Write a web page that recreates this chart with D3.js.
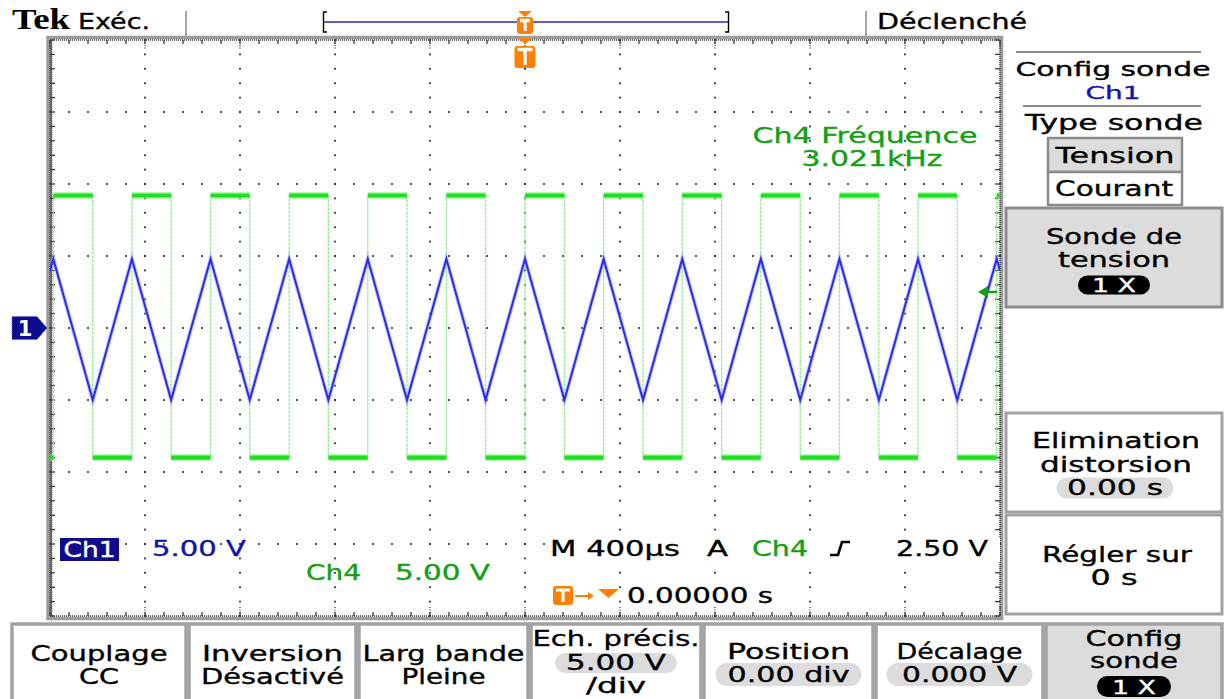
<!DOCTYPE html>
<html>
<head>
<meta charset="utf-8">
<script src="https://cdn.jsdelivr.net/npm/d3@7"></script>
<style>
  html, body { margin: 0; padding: 0; background: #fff; }
  svg { display: block; }
  text { font-family: "DejaVu Sans", Verdana, sans-serif; }
  text.serif { font-family: "Liberation Serif", "Times New Roman", serif; }
</style>
</head>
<body>
<script>
// ---- Acquisition: Ch1 (triangle) and Ch4 (square), 400 µs/div, 5 V/div ----
const timeWindow = [-2000, 2000];          // µs, trigger at 0
const voltWindow = [-20, 20];              // V, 8 divisions of 5 V

// Ch1 triangle vertices (time in µs, level in V)
const ch1Times = [-2000, -1986, -1820, -1655, -1490, -1324, -1159, -993, -828, -662, -497, -331, -166,
                  0, 166, 331, 497, 662, 828, 993, 1159, 1324, 1490, 1655, 1820, 1986, 2000];
const ch1Volts = [4.0, 4.8, -5.0, 4.8, -5.0, 4.8, -5.0, 4.8, -5.0, 4.8, -5.0, 4.8, -5.0,
                  4.8, -5.0, 4.8, -5.0, 4.8, -5.0, 4.8, -5.0, 4.8, -5.0, 4.8, -5.0, 4.8, 4.0];

// Ch4 square: level held from each time until the next one
const ch4Times = [-2000, -1986, -1820, -1655, -1490, -1324, -1159, -993, -828, -662, -497, -331, -166,
                  0, 166, 331, 497, 662, 828, 993, 1159, 1324, 1490, 1655, 1820, 1986, 2000];
const ch4Volts = [-9.0, 9.2, -9.0, 9.2, -9.0, 9.2, -9.0, 9.2, -9.0, 9.2, -9.0, 9.2, -9.0,
                  9.2, -9.0, 9.2, -9.0, 9.2, -9.0, 9.2, -9.0, 9.2, -9.0, 9.2, -9.0, 9.2, 9.2];

const triggerLevel = 2.50;                  // V on Ch4
const ch1Scale = "5.00 V";
const ch4Scale = "5.00 V";
const timebase = "M 400µs";
const triggerLabel = "2.50 V";
const triggerPos = "0.00000 s";
const freqTitle = "Ch4 Fréquence";
const freqValue = "3.021kHz";

// Menus
const sideMenu = {
  title: ["Config sonde", "Ch1"],
  type: ["Type sonde", "Tension", "Courant"]
};
const bottomButtons = [
  ["Couplage", "CC"],
  ["Inversion", "Désactivé"],
  ["Larg bande", "Pleine"],
  ["Ech. précis.", "5.00 V", "/div"],
  ["Position", "0.00 div"],
  ["Décalage", "0.000 V"],
  ["Config", "sonde", "1 X"]
];

// ---------------------------------------------------------------------------
const W = 1224, H = 699;
const P = { left: 50, right: 1000, top: 40, bottom: 616 };
const C = {
  ch1: "#2a2aee", ch1Text: "#1414a8", ch1Box: "#0c0c8c",
  ch4: "#22de22", ch4Edge: "#8eea8e", ch4Text: "#14a014",
  orange: "#ff7f00", frame: "#9c9c9c", grid: "#2a2a2a",
  panel: "#dcdcdc", border: "#a2a2a2"
};

const svg = d3.select("body").append("svg").attr("width", W).attr("height", H);
const x = d3.scaleLinear().domain(timeWindow).range([P.left, P.right]);
const y = d3.scaleLinear().domain(voltWindow).range([P.bottom, P.top]);

function txt(g, px, py, s, o = {}) {
  const fill = o.fill || "#000";
  const t = g.append("text")
    .attr("x", px).attr("y", py)
    .attr("font-size", o.size || 21)
    .attr("fill", fill)
    .attr("stroke", fill).attr("stroke-width", o.weight ? 0 : 0.35)
    .attr("text-anchor", o.anchor || "start")
    .text(s);
  if (o.width) t.attr("textLength", o.width).attr("lengthAdjust", "spacingAndGlyphs");
  if (o.cls) t.attr("class", o.cls);
  if (o.weight) t.attr("font-weight", o.weight);
  return t;
}

// ---- Top status bar ----
const bar = svg.append("g");
txt(bar, 12, 29, "Tek", { cls: "serif", weight: "bold", size: 29, width: 58 });
txt(bar, 78, 29, "Exéc.", { width: 72 });
bar.append("line").attr("x1", 186).attr("x2", 186).attr("y1", 11).attr("y2", 37)
  .attr("stroke", "#a8a8a8").attr("stroke-width", 2);
bar.append("line").attr("x1", 866).attr("x2", 866).attr("y1", 11).attr("y2", 37)
  .attr("stroke", "#a8a8a8").attr("stroke-width", 2);
txt(bar, 877, 29, "Déclenché", { width: 150 });

// record-length bar with brackets
bar.append("line").attr("x1", 323).attr("x2", 729).attr("y1", 22).attr("y2", 22)
  .attr("stroke", "#2a2ab8").attr("stroke-width", 1.6);
bar.append("path").attr("d", "M327,12 L323.5,12 L323.5,32 L327,32")
  .attr("fill", "none").attr("stroke", "#000").attr("stroke-width", 1.4);
bar.append("path").attr("d", "M725,12 L728.5,12 L728.5,32 L725,32")
  .attr("fill", "none").attr("stroke", "#000").attr("stroke-width", 1.4);

function triggerMark(g, cx, ty, boxY, boxW, boxH) {
  g.append("path").attr("d", `M${cx - 7},${ty} L${cx + 7},${ty} L${cx},${ty + 6} Z`).attr("fill", C.orange);
  g.append("rect").attr("x", cx - boxW / 2).attr("y", boxY).attr("width", boxW).attr("height", boxH)
    .attr("rx", 3).attr("fill", C.orange);
  g.append("path")
    .attr("d", `M${cx - boxW / 2 + 3},${boxY + 3.5} L${cx + boxW / 2 - 3},${boxY + 3.5} M${cx},${boxY + 3} L${cx},${boxY + boxH - 3}`)
    .attr("stroke", "#fff").attr("stroke-width", 3.4).attr("fill", "none");
}
triggerMark(bar, x(0), 11, 17, 16, 17);

// ---- Graticule ----
const grat = svg.append("g");
grat.append("rect").attr("x", 48).attr("y", 37.5).attr("width", 953.5).attr("height", 581)
  .attr("fill", "#fff").attr("stroke", C.frame).attr("stroke-width", 3.5);

const majorT = d3.range(timeWindow[0], timeWindow[1] + 1, 400);
const majorV = d3.range(voltWindow[0], voltWindow[1] + 1, 5);
const minorT = d3.range(timeWindow[0], timeWindow[1] + 1, 80);
const minorV = d3.range(voltWindow[0], voltWindow[1] + 1, 1);

// dotted division lines
majorT.slice(1, -1).forEach(t => {
  minorV.forEach(v => grat.append("rect").attr("x", x(t) - 0.9).attr("y", y(v) - 0.9)
    .attr("width", 1.8).attr("height", 1.8).attr("fill", C.grid));
});
majorV.slice(1, -1).forEach(v => {
  minorT.forEach(t => grat.append("rect").attr("x", x(t) - 0.9).attr("y", y(v) - 0.9)
    .attr("width", 1.8).attr("height", 1.8).attr("fill", C.grid));
});

// edge rulers
const edge = grat.append("g").attr("stroke", "#3a3a3a").attr("fill", "none");
[[P.left, P.top, P.right, P.top], [P.left, P.bottom, P.right, P.bottom],
 [P.left, P.top, P.left, P.bottom], [P.right, P.top, P.right, P.bottom]].forEach(([a, b, c, d]) => {
  edge.append("line").attr("x1", a).attr("y1", b).attr("x2", c).attr("y2", d)
    .attr("stroke-width", 1.4).attr("stroke-dasharray", "1,1");
});
edge.append("line").attr("x1", P.left + 1).attr("x2", P.left + 1).attr("y1", P.top).attr("y2", P.bottom)
  .attr("stroke", "#6a6a6a").attr("stroke-width", 2.5);
minorT.forEach(t => {
  edge.append("line").attr("x1", x(t)).attr("x2", x(t)).attr("y1", P.top).attr("y2", P.top + 4).attr("stroke-width", 1.3);
  edge.append("line").attr("x1", x(t)).attr("x2", x(t)).attr("y1", P.bottom - 4).attr("y2", P.bottom).attr("stroke-width", 1.3);
});
minorV.forEach(v => {
  edge.append("line").attr("x1", P.left).attr("x2", P.left + 5).attr("y1", y(v)).attr("y2", y(v)).attr("stroke-width", 1.3);
  edge.append("line").attr("x1", P.right - 5).attr("x2", P.right).attr("y1", y(v)).attr("y2", y(v)).attr("stroke-width", 1.3);
});
majorT.forEach(t => {
  edge.append("line").attr("x1", x(t)).attr("x2", x(t)).attr("y1", P.top).attr("y2", P.top + 9)
    .attr("stroke-width", 1.3).attr("stroke-dasharray", "1,1.5");
  edge.append("line").attr("x1", x(t)).attr("x2", x(t)).attr("y1", P.bottom - 9).attr("y2", P.bottom)
    .attr("stroke-width", 1.3).attr("stroke-dasharray", "1,1.5");
});

// ---- Traces ----
svg.append("clipPath").attr("id", "screen").append("rect")
  .attr("x", P.left).attr("y", P.top).attr("width", P.right - P.left).attr("height", P.bottom - P.top);
const traces = svg.append("g").attr("clip-path", "url(#screen)");

// Ch4 square: faint transitions, heavy plateaus
const ch4 = ch4Times.map((t, i) => ({ t, v: ch4Volts[i] }));
const ch4Edges = traces.append("g");
ch4.slice(1, -1).forEach((d, i) => {
  ch4Edges.append("line").attr("x1", x(d.t)).attr("x2", x(d.t))
    .attr("y1", y(ch4[i].v)).attr("y2", y(d.v))
    .attr("stroke", C.ch4Edge).attr("stroke-width", 1.3).attr("stroke-dasharray", "3,1");
});
const plateaus = ch4.slice(0, -1).map((d, i) => ({ t0: d.t, t1: ch4[i + 1].t, v: d.v }));
traces.append("g").selectAll("line").data(plateaus).join("line")
  .attr("x1", d => x(d.t0)).attr("x2", d => x(d.t1)).attr("y1", d => y(d.v)).attr("y2", d => y(d.v))
  .attr("stroke", "#8ff28f").attr("stroke-width", 7).attr("opacity", 0.6);
traces.append("g").selectAll("line").data(plateaus).join("line")
  .attr("x1", d => x(d.t0)).attr("x2", d => x(d.t1)).attr("y1", d => y(d.v)).attr("y2", d => y(d.v))
  .attr("stroke", C.ch4).attr("stroke-width", 4.2);

// Ch1 triangle
const ch1 = ch1Times.map((t, i) => ({ t, v: ch1Volts[i] }));
const line = d3.line().x(d => x(d.t)).y(d => y(d.v));
traces.append("path").datum(ch1).attr("d", line).attr("fill", "none")
  .attr("stroke", "#9a9aff").attr("stroke-width", 4.2).attr("opacity", 0.5);
traces.append("path").datum(ch1).attr("d", line).attr("fill", "none")
  .attr("stroke", C.ch1).attr("stroke-width", 2);

// ---- Markers ----
const mk = svg.append("g");
// Ch1 ground reference
const gy = y(0);
mk.append("path").attr("d", `M12,${gy - 11.5} L37,${gy - 11.5} L47,${gy} L37,${gy + 11.5} L12,${gy + 11.5} Z`)
  .attr("fill", C.ch1Box).attr("stroke", "#6a6ab8").attr("stroke-width", 1).attr("stroke-dasharray", "1,1");
txt(mk, 25, gy + 8, "1", { fill: "#fff", size: 21, weight: "bold", anchor: "middle" });

// trigger position and trigger level
triggerMark(mk, x(0), 38, 46, 21, 22);
const ty = y(triggerLevel);
mk.append("path").attr("d", `M${P.right - 22},${ty} L${P.right - 12},${ty - 6} L${P.right - 12},${ty + 6} Z`).attr("fill", C.ch4Text);
mk.append("line").attr("x1", P.right - 13).attr("x2", P.right - 3).attr("y1", ty).attr("y2", ty)
  .attr("stroke", C.ch4Text).attr("stroke-width", 2.5);

// ---- Readouts inside the screen ----
const rd = svg.append("g");
txt(rd, 865, 143, freqTitle, { fill: C.ch4Text, anchor: "middle", width: 225 });
txt(rd, 872, 166, freqValue, { fill: C.ch4Text, anchor: "middle", width: 141 });

rd.append("rect").attr("x", 60).attr("y", 538).attr("width", 59).attr("height", 23).attr("fill", C.ch1Box);
txt(rd, 89.5, 557, "Ch1", { fill: "#fff", anchor: "middle", width: 52 });
txt(rd, 152, 556, ch1Scale, { fill: C.ch1Text, width: 94 });
txt(rd, 306, 580, "Ch4", { fill: C.ch4Text, width: 55 });
txt(rd, 395, 580, ch4Scale, { fill: C.ch4Text, width: 95 });

rd.append("rect").attr("x", 548).attr("y", 538).attr("width", 452).attr("height", 24).attr("fill", "#fff");
txt(rd, 550, 556, timebase, { width: 130 });
txt(rd, 707, 556, "A", { width: 21 });
txt(rd, 752, 556, "Ch4", { fill: C.ch4Text, width: 56 });
rd.append("path").attr("d", "M830,555 L838,555 L842,542 L850,542")
  .attr("fill", "none").attr("stroke", "#000").attr("stroke-width", 2.6);
txt(rd, 896, 556, triggerLabel, { width: 92 });

// trigger position readout
rd.append("rect").attr("x", 553).attr("y", 586).attr("width", 20).attr("height", 19).attr("rx", 3).attr("fill", C.orange);
rd.append("path").attr("d", "M556,590 L570,590 M563,590 L563,602").attr("stroke", "#fff").attr("stroke-width", 3.2);
rd.append("line").attr("x1", 575).attr("x2", 590).attr("y1", 596).attr("y2", 596).attr("stroke", C.orange).attr("stroke-width", 2);
rd.append("path").attr("d", "M588,592 L594,596 L588,600 Z").attr("fill", C.orange);
rd.append("path").attr("d", "M598,589 L619,589 L608.5,598 Z").attr("fill", C.orange);
rd.append("rect").attr("x", 624).attr("y", 584).attr("width", 152).attr("height", 22).attr("fill", "#fff");
txt(rd, 627, 603, triggerPos, { width: 146 });

// ---- Side menu ----
const side = svg.append("g");
side.append("line").attr("x1", 1016).attr("x2", 1201).attr("y1", 52).attr("y2", 52).attr("stroke", "#8a8a8a").attr("stroke-width", 2);
txt(side, 1113, 76, sideMenu.title[0], { anchor: "middle", width: 195, size: 20 });
txt(side, 1113, 99, sideMenu.title[1], { anchor: "middle", width: 55, size: 18, fill: C.ch1Text });
side.append("line").attr("x1", 1023).attr("x2", 1201).attr("y1", 106).attr("y2", 106).attr("stroke", "#8a8a8a").attr("stroke-width", 2);
txt(side, 1114, 130, sideMenu.type[0], { anchor: "middle", width: 178 });
side.append("rect").attr("x", 1048).attr("y", 138).attr("width", 134).attr("height", 34)
  .attr("fill", C.panel).attr("stroke", "#8a8a8a").attr("stroke-width", 2.5);
txt(side, 1115, 163, sideMenu.type[1], { anchor: "middle", width: 119 });
side.append("rect").attr("x", 1048).attr("y", 172).attr("width", 134).attr("height", 33)
  .attr("fill", "#fff").attr("stroke", "#8a8a8a").attr("stroke-width", 2.5);
txt(side, 1114, 196, sideMenu.type[2], { anchor: "middle", width: 118 });

function pill(g, cx, cy, w, h, s, dark, tw) {
  g.append("rect").attr("x", cx - w / 2).attr("y", cy - h / 2).attr("width", w).attr("height", h)
    .attr("rx", h / 2).attr("fill", dark ? "#000" : C.panel);
  txt(g, cx, cy + 7, s, { anchor: "middle", fill: dark ? "#fff" : "#000", width: tw, size: dark ? 19 : 21 });
}

side.append("rect").attr("x", 1006).attr("y", 208).attr("width", 216).attr("height", 99)
  .attr("fill", C.panel).attr("stroke", "#8c8c8c").attr("stroke-width", 3);
txt(side, 1114, 244, "Sonde de", { anchor: "middle", width: 136 });
txt(side, 1114, 267, "tension", { anchor: "middle", width: 112 });
pill(side, 1114, 285, 72, 19, "1 X", true, 44);

side.append("rect").attr("x", 1006).attr("y", 413).attr("width", 216).attr("height", 99)
  .attr("fill", "#fff").attr("stroke", C.border).attr("stroke-width", 3);
txt(side, 1116, 448, "Elimination", { anchor: "middle", width: 168 });
txt(side, 1116, 472, "distorsion", { anchor: "middle", width: 152 });
pill(side, 1115, 488, 117, 21, "0.00 s", false, 96);

side.append("rect").attr("x", 1006).attr("y", 515).attr("width", 216).attr("height", 99)
  .attr("fill", "#fff").attr("stroke", C.border).attr("stroke-width", 3);
txt(side, 1117, 562, "Régler sur", { anchor: "middle", width: 150 });
txt(side, 1114, 585, "0 s", { anchor: "middle", width: 47 });

// ---- Bottom menu ----
const bot = svg.append("g");
const btnX = [12, 189, 359, 531, 704, 876, 1046, 1222];
const labelW = [[137, 40], [141, 143], [162, 84], [167, 100, 60], [123, 122], [126, 115], [97, 88, 44]];
bottomButtons.forEach((b, i) => {
  const x0 = btnX[i], x1 = btnX[i + 1] - (i < 6 ? 3 : 0), cx = (x0 + x1) / 2;
  bot.append("rect").attr("x", x0).attr("y", 624).attr("width", x1 - x0).attr("height", 80)
    .attr("fill", i === 6 ? C.panel : "#fff").attr("stroke", C.border).attr("stroke-width", 3.5);
  if (b.length === 2 && i <= 2) {
    txt(bot, cx, 661, b[0], { anchor: "middle", width: labelW[i][0] });
    txt(bot, cx, 684, b[1], { anchor: "middle", width: labelW[i][1] });
  } else if (b.length === 2) {
    txt(bot, cx, 659, b[0], { anchor: "middle", width: labelW[i][0] });
    pill(bot, cx, 674.5, 146, 23, b[1], false, labelW[i][1]);
  } else if (i === 3) {
    txt(bot, cx, 646, b[0], { anchor: "middle", width: labelW[i][0] });
    pill(bot, cx, 663, 122, 20, b[1], false, labelW[i][1]);
    txt(bot, cx, 693, b[2], { anchor: "middle", width: labelW[i][2] });
  } else {
    txt(bot, cx, 646, b[0], { anchor: "middle", width: labelW[i][0] });
    txt(bot, cx, 668, b[1], { anchor: "middle", width: labelW[i][1] });
    pill(bot, cx, 686.5, 74, 21, b[2], true, labelW[i][2]);
  }
});
</script>
</body>
</html>
